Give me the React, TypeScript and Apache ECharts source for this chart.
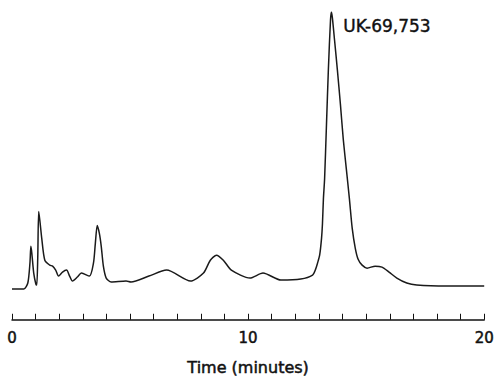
import React, { useEffect, useRef } from "react";
import * as echarts from "echarts";

const times = [
  0, 0.5, 0.67, 0.76, 0.8, 0.84, 0.92, 1.01, 1.05, 1.09, 1.13, 1.18, 1.26, 1.39, 1.6, 1.72, 1.85, 1.97,
  2.14, 2.31, 2.44, 2.56, 2.77, 2.94, 3.28, 3.45, 3.53, 3.61, 3.7, 3.78, 3.87, 3.99, 4.2, 4.83, 5.04,
  5.8, 6.55, 7.56, 8.11, 8.4, 8.66, 8.95, 9.29, 10.08, 10.63, 11.39, 12.23, 12.73,
  12.86, 12.94, 13.03, 13.11, 13.15, 13.19, 13.24, 13.32, 13.4, 13.49, 13.53,
  13.57, 13.66, 13.78, 13.91, 14.03, 14.16, 14.29, 14.41, 14.54, 14.66,
  14.83, 15.04, 15.38, 15.67, 15.97, 16.3, 16.72, 17.14, 18.4, 20,
];
const signal = [
  31, 31, 37, 57, 74, 67, 47, 36, 35, 62, 109, 100, 82, 60, 55, 54, 50, 44,
  48, 50, 44, 39, 43, 47, 44, 57, 77, 95, 87, 74, 54, 42, 38, 39, 38,
  44, 50, 39, 47, 60, 65, 60, 50, 42, 47, 40, 41, 45,
  51, 57, 65, 82, 97, 122, 142, 197, 252, 302, 310,
  304, 282, 252, 217, 182, 152, 122, 92, 72, 61,
  55, 52, 54, 53, 48, 42, 37, 35, 34, 34,
];
const tickLabels = [0, 10, 20];
const peakLabel = "UK-69,753";
const axisTitle = "Time (minutes)";

export default function App() {
  const ref = useRef<HTMLDivElement>(null);
  useEffect(() => {
    document.body.style.margin = "0";
    if (!ref.current) return;
    const chart = echarts.init(ref.current, undefined, { renderer: "svg" });
    const font = "DejaVu Sans";
    const ink = "#111";
    chart.setOption({
      animation: false,
      backgroundColor: "#fff",
      grid: { left: 12, right: 9, top: 12, bottom: 59 },
      xAxis: {
        type: "value",
        min: 0,
        max: 20,
        interval: 1,
        splitLine: { show: false },
        axisLine: { show: true, lineStyle: { color: ink, width: 1.5 } },
        axisTick: { show: true, inside: true, length: 6, lineStyle: { color: ink, width: 1 } },
        axisLabel: {
          margin: 11,
          fontFamily: font,
          fontSize: 15,
          color: ink,
          textBorderColor: ink,
          textBorderWidth: 0.5,
          formatter: (v: number) => (tickLabels.includes(v) ? String(v) : ""),
        },
        name: axisTitle,
        nameLocation: "middle",
        nameGap: 40,
        nameTextStyle: {
          fontFamily: font,
          fontSize: 16,
          color: ink,
          textBorderColor: ink,
          textBorderWidth: 0.5,
        },
      },
      yAxis: {
        type: "value",
        min: 0,
        max: 310,
        show: false,
        splitLine: { show: false },
      },
      series: [
        {
          type: "line",
          data: times.map((t, i) => [t, signal[i]]),
          smooth: 0.25,
          symbol: "none",
          lineStyle: { color: "#1a1a1a", width: 1.5 },
        },
      ],
      graphic: [
        {
          type: "text",
          left: 343,
          top: 17,
          style: {
            text: peakLabel,
            fontFamily: font,
            fontSize: 17,
            fill: ink,
            stroke: ink,
            lineWidth: 0.4,
          },
        },
      ],
    });
    return () => chart.dispose();
  }, []);
  return <div ref={ref} style={{ width: 497, height: 381 }} />;
}
